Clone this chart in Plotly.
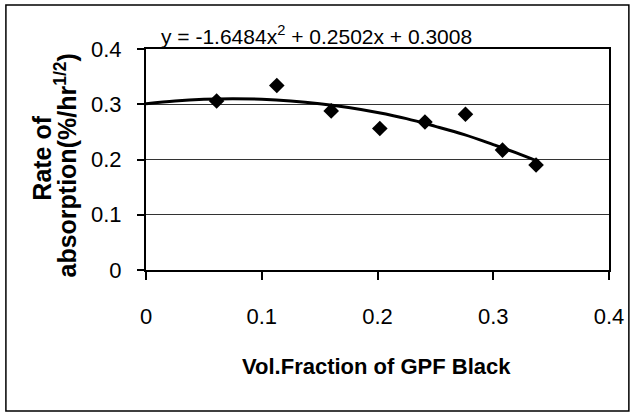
import plotly.graph_objects as go

# Data
vol_fraction = [0.061, 0.113, 0.160, 0.202, 0.241, 0.276, 0.308, 0.337]
absorption_rate = [0.306, 0.334, 0.288, 0.256, 0.268, 0.282, 0.217, 0.190]

# Polynomial trendline as drawn
trend_x = [0.0, 0.025, 0.05, 0.075, 0.1, 0.125, 0.15, 0.175, 0.2, 0.225, 0.25, 0.275, 0.3, 0.32, 0.337]
trend_y = [0.301, 0.306, 0.309, 0.310, 0.309, 0.306, 0.301, 0.294, 0.285, 0.274, 0.260, 0.245, 0.227, 0.212, 0.198]

equation_text = "y = -1.6484x<sup>2</sup> + 0.2502x + 0.3008"
x_ticks = [0, 0.1, 0.2, 0.3, 0.4]
y_ticks = [0, 0.1, 0.2, 0.3, 0.4]
x_title = "Vol.Fraction of GPF Black"
y_title_line1 = "Rate of"
y_title_line2 = "absorption(%/hr<sup>1/2</sup>)"

FONT = "Liberation Sans, Arial, sans-serif"

L, R, T, B = 146, 24, 49, 145
PW, PH = 636 - L - R, 415 - T - B

fig = go.Figure()
fig.add_trace(go.Scatter(
    x=trend_x, y=trend_y, mode="lines", line=dict(color="black", width=3, shape="spline"),
    showlegend=False, hoverinfo="skip"))
fig.add_trace(go.Scatter(
    x=vol_fraction, y=absorption_rate, mode="markers",
    marker=dict(symbol="diamond", size=12, color="black"),
    showlegend=False))

def px_x(p):
    return (p - L) / PW

def px_y(p):
    return (415 - B - p) / PH

fig.update_layout(
    width=636, height=415,
    margin=dict(l=L, r=R, t=T, b=B),
    paper_bgcolor="white", plot_bgcolor="white",
    font=dict(family=FONT, color="black", size=22),
    xaxis=dict(range=[0, 0.4], tickvals=x_ticks, ticktext=[str(v) for v in x_ticks],
               showgrid=False, zeroline=False, showline=True, linecolor="black", linewidth=2,
               mirror=True, ticks="outside", ticklen=8, tickcolor="black", tickwidth=1.5,
               ticklabelstandoff=18, tickfont=dict(size=22)),
    yaxis=dict(range=[0, 0.4], tickvals=y_ticks, ticktext=[str(v) for v in y_ticks],
               showgrid=True, gridcolor="#333333", gridwidth=1.2, zeroline=False,
               showline=True, linecolor="black", linewidth=2, mirror=True,
               ticks="outside", ticklen=7, tickcolor="black", tickwidth=1.5,
               ticklabelstandoff=11, tickfont=dict(size=22)),
    annotations=[
        dict(text=equation_text, xref="paper", yref="paper", x=px_x(318), y=px_y(35),
             showarrow=False, xanchor="center", yanchor="middle", font=dict(size=21)),
        dict(text="<b>" + x_title + "</b>", xref="paper", yref="paper", x=px_x(378), y=px_y(366),
             showarrow=False, xanchor="center", yanchor="middle", font=dict(size=22)),
        dict(text="<b>" + y_title_line1 + "</b>", xref="paper", yref="paper", x=px_x(41), y=px_y(158),
             showarrow=False, textangle=-90, xanchor="center", yanchor="middle", font=dict(size=25)),
        dict(text="<b>" + y_title_line2 + "</b>", xref="paper", yref="paper", x=px_x(65), y=px_y(166),
             showarrow=False, textangle=-90, xanchor="center", yanchor="middle", font=dict(size=25)),
    ],
    shapes=[dict(type="rect", xref="paper", yref="paper",
                 x0=px_x(5), x1=px_x(632), y0=px_y(411), y1=px_y(5),
                 line=dict(color="black", width=1.5))],
)

fig.write_html("out.html")
